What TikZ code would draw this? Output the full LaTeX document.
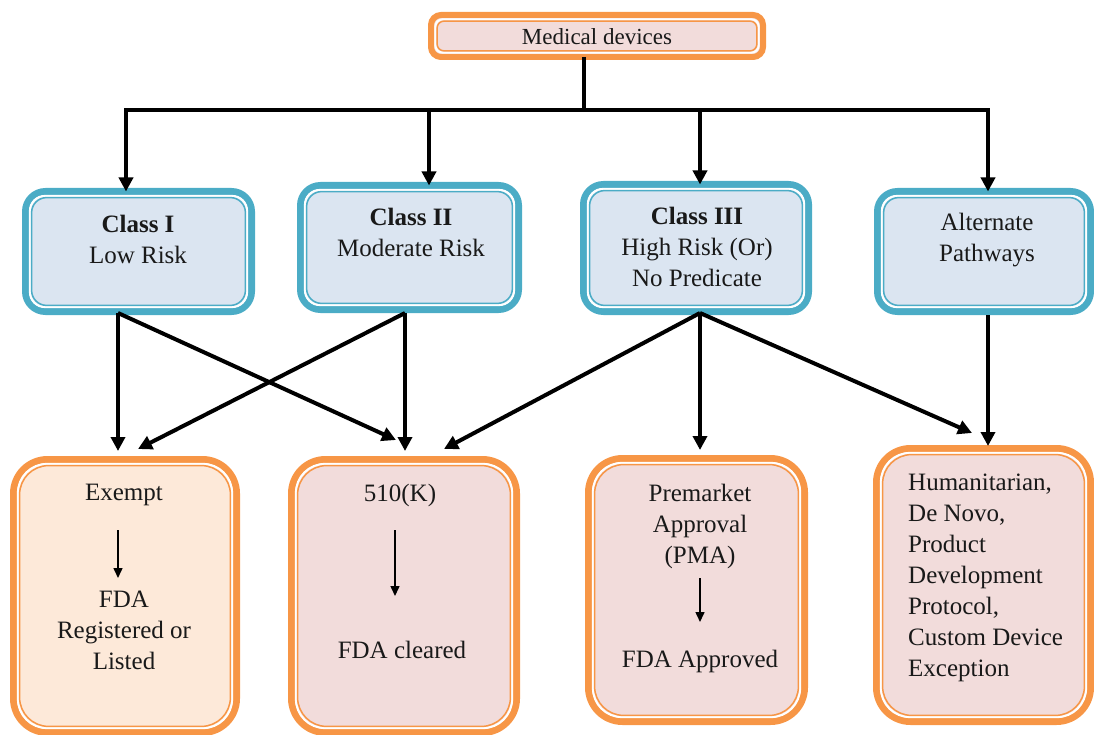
\documentclass[tikz,border=0pt]{standalone}
\usepackage{fontspec}
\setmainfont{Liberation Serif}
\usetikzlibrary{calc,arrows.meta}
\definecolor{orng}{HTML}{F79646}
\definecolor{pinkf}{HTML}{F2DCDB}
\definecolor{peachf}{HTML}{FDE9D9}
\definecolor{blu}{HTML}{4BACC6}
\definecolor{bluf}{HTML}{DBE5F1}
\tikzset{
  obox/.style={draw=orng, line width=7pt, fill=pinkf, rectangle, inner sep=0pt, outer sep=0pt},
  bbox/.style={draw=blu, line width=7pt, fill=bluf, rectangle, inner sep=0pt, outer sep=0pt, rounded corners=20pt},
  lbl/.style={font=\fontsize{25}{31}\selectfont, align=center, inner sep=0pt, text=black!90},
  conn/.style={line width=4pt, -{Triangle[length=14pt,width=14pt]}},
  line/.style={line width=4pt},
  small/.style={line width=1.5pt, -{Triangle[length=10pt,width=9pt]}},
}
\newcommand\innerframe[3]{%
  \draw[white, line width=2pt, rounded corners=#3]
    ($(#1.north west)+(4.4,4.4)$) rectangle ($(#1.south east)+(-4.4,-4.4)$);
  \draw[#2, line width=1.5pt, rounded corners=#3]
    ($(#1.north west)+(6.1,6.1)$) rectangle ($(#1.south east)+(-6.1,-6.1)$);}
\begin{document}
\begin{tikzpicture}[x=1pt,y=-1pt]
\useasboundingbox (0,0) rectangle (1094,735);
% boxes
\node[obox, line width=6pt, rounded corners=10pt, minimum width=332pt, minimum height=42pt] (med) at (597,36) {};
\innerframe{med}{orng}{7pt}
\node[lbl, font=\fontsize{23}{30}\selectfont] (medt) at (597,37) {Medical devices};

\node[bbox, minimum width=226pt, minimum height=120pt] (c1) at (138.5,251.5) {};
\innerframe{c1}{blu}{15pt}
\node[bbox, minimum width=218pt, minimum height=124pt] (c2) at (409.5,247.5) {};
\innerframe{c2}{blu}{15pt}
\node[bbox, minimum width=225pt, minimum height=127pt] (c3) at (696,248) {};
\innerframe{c3}{blu}{15pt}
\node[bbox, minimum width=213pt, minimum height=120pt] (c4) at (984,251.5) {};
\innerframe{c4}{blu}{15pt}

\node[obox, fill=peachf, rounded corners=34pt, minimum width=223pt, minimum height=273pt] (ex) at (125,596) {};
\innerframe{ex}{orng}{29pt}
\node[obox, rounded corners=34pt, minimum width=225pt, minimum height=273pt] (k) at (404,596) {};
\innerframe{k}{orng}{29pt}
\node[obox, rounded corners=34pt, minimum width=216pt, minimum height=263pt] (pma) at (696.5,590) {};
\innerframe{pma}{orng}{29pt}
\node[obox, rounded corners=34pt, minimum width=214pt, minimum height=273pt] (hum) at (983.5,585) {};
\innerframe{hum}{orng}{29pt}

% texts
\node[lbl] (c1t) at (138,239) {\textbf{Class I}\\Low Risk};
\node[lbl] (c2t) at (411,232) {\textbf{Class II}\\Moderate Risk};
\node[lbl] (c3t) at (697,247) {\textbf{Class III}\\High Risk (Or)\\No Predicate};
\node[lbl] (c4t) at (987,240) {Alternate\\Pathways};

\node[lbl] (ext) at (124,495) {Exempt};
\node[lbl] (exb) at (124,630) {FDA\\Registered or\\Listed};
\node[lbl] (kt) at (400,495) {510(K)};
\node[lbl] (kb) at (402,650) {FDA cleared};
\node[lbl] (pmat) at (700,526) {Premarket\\Approval\\(PMA)};
\node[lbl] (pmab) at (700,661) {FDA Approved};
\node[lbl, align=left, anchor=west] (humt) at (908,578) {Humanitarian,\\De Novo,\\Product\\Development\\Protocol,\\Custom Device\\Exception};

% inner small arrows
\coordinate (ea) at (118,530); \coordinate (eb) at (118,578);
\draw[small] (ea) -- (eb);
\coordinate (ka) at (395,530); \coordinate (kb2) at (395,596);
\draw[small] (ka) -- (kb2);
\coordinate (pa) at (700,578); \coordinate (pb) at (700,622);
\draw[small] (pa) -- (pb);

% top tree
\coordinate (jm) at (584,110);
\coordinate (j1) at (126,110);
\coordinate (j2) at (429,110);
\coordinate (j3) at (700,110);
\coordinate (j4) at (988,110);
\draw[line] (med.south -| jm) -- (jm);
\draw[line, line cap=rect] (j1) -- (j4);
\draw[conn] (j1) -- (j1 |- c1.north);
\draw[conn] (j2) -- (j2 |- c2.north);
\draw[conn] (j3) -- (j3 |- c3.north);
\draw[conn] (j4) -- (j4 |- c4.north);

% lower connectors
\coordinate (s1) at (118,313);
\coordinate (s2) at (405,313);
\coordinate (s3) at (700,313);
\coordinate (s4) at (988,315);
\draw[conn] (s1) -- (118,451);
\draw[conn] (s1) -- (396,440);
\draw[conn] (s2) -- (138,449);
\draw[conn] (s2) -- (405,451);
\draw[conn] (s3) -- (444,449);
\draw[conn] (s3) -- (700,450);
\draw[conn] (s3) -- (972,433);
\draw[conn] (s4) -- (988,446);
\end{tikzpicture}
\end{document}
